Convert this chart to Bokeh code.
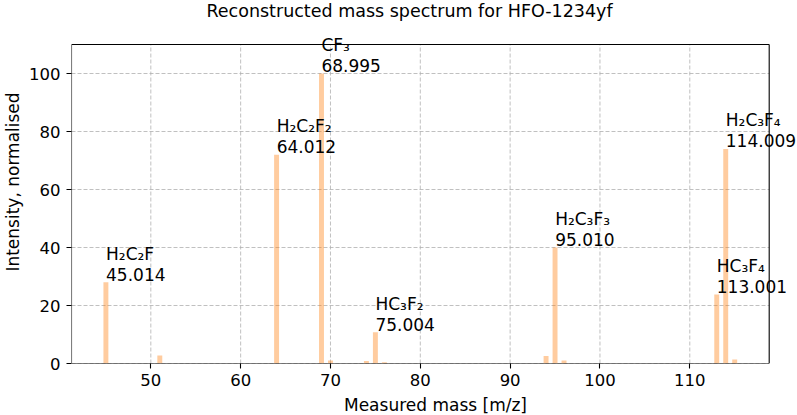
from bokeh.plotting import figure
from bokeh.models import ColumnDataSource, Label, FixedTicker
from bokeh.embed import file_html
from bokeh.resources import INLINE

# ---- data ----
masses = [45, 51, 64, 69, 70, 74, 75, 76, 94, 95, 96, 113, 114, 115]
intensities = [28, 2.8, 72, 100, 1.0, 0.9, 10.8, 0.4, 2.6, 40, 1.0, 23.8, 74, 1.4]

label_formulas = ["H₂C₂F", "H₂C₂F₂", "CF₃", "HC₃F₂", "H₂C₃F₃", "HC₃F₄", "H₂C₃F₄"]
label_masses = [45.014, 64.012, 68.995, 75.004, 95.010, 113.001, 114.009]
label_texts = ["45.014", "64.012", "68.995", "75.004", "95.010", "113.001", "114.009"]
label_heights = [28, 72, 100, 10.8, 40, 23.8, 74]

x_ticks = [50, 60, 70, 80, 90, 100, 110]
y_ticks = [0, 20, 40, 60, 80, 100]

title_text = "Reconstructed mass spectrum for HFO-1234yf"
xlabel = "Measured mass [m/z]"
ylabel = "Intensity, normalised"

# ---- layout constants (pixels) ----
XMIN, XMAX = 41.17, 118.84     # visible axes limits
YMIN, YMAX = 0.0, 110.0
FIG_W, FIG_H = 797, 415
LEFT, BOTTOM = 69, 52           # outer panels
AX_W, AX_H = 697.7, 319         # size of the boxed axes
FRAME_W = FIG_W - LEFT
FRAME_H = FIG_H - BOTTOM
px_x = AX_W / (XMAX - XMIN)
px_y = AX_H / (YMAX - YMIN)
x_end = XMIN + FRAME_W / px_x   # frame extends right of the box so labels aren't clipped
y_end = YMIN + FRAME_H / px_y   # and above it, for the title and top labels

FONT = "DejaVu Sans"

p = figure(
    frame_width=FRAME_W, frame_height=FRAME_H,
    min_border_left=LEFT, min_border_right=0, min_border_top=0, min_border_bottom=BOTTOM,
    x_range=(XMIN, x_end), y_range=(YMIN, y_end),
    output_backend="svg", toolbar_location=None,
)
p.outline_line_color = None
p.xgrid.visible = False
p.ygrid.visible = False

# ---- grid (dashed) ----
gx = ColumnDataSource(dict(x0=x_ticks, x1=x_ticks, y0=[YMIN] * len(x_ticks), y1=[YMAX] * len(x_ticks)))
gy = ColumnDataSource(dict(x0=[XMIN] * len(y_ticks), x1=[XMAX] * len(y_ticks), y0=y_ticks, y1=y_ticks))
for src in (gx, gy):
    p.segment(x0="x0", y0="y0", x1="x1", y1="y1", source=src,
              line_color="#b0b0b0", line_width=0.8, line_dash="4 2")

# ---- bars ----
bar_src = ColumnDataSource(dict(x=masses, top=intensities))
p.vbar(x="x", top="top", bottom=0, width=0.55, source=bar_src,
       fill_color="#ff7f0e", fill_alpha=0.4, line_color=None)

# ---- box spines ----
spines = ColumnDataSource(dict(x0=[XMIN, XMAX, XMIN, XMIN], y0=[YMIN, YMIN, YMIN, YMAX],
                               x1=[XMIN, XMAX, XMAX, XMAX], y1=[YMAX, YMAX, YMIN, YMAX]))
p.segment(x0="x0", y0="y0", x1="x1", y1="y1", source=spines,
          line_color="black", line_width=1.1)

# ---- peak labels ----
LFS = "17px"
for xm, ym, form, num in zip(label_masses, label_heights, label_formulas, label_texts):
    for txt, off in ((num, 8), (form, 28.5)):
        p.add_layout(Label(x=xm, y=ym, text=txt, x_offset=0, y_offset=off,
                           text_align="left", text_baseline="alphabetic",
                           text_font=FONT, text_font_size=LFS, text_color="black"))

# ---- title (inside the extended frame) ----
title_cx = XMIN + (407 - LEFT) / px_x
title_y = YMIN + (FRAME_H - 10) / px_y
p.add_layout(Label(x=title_cx, y=title_y, text=title_text, text_align="center",
                   text_baseline="alphabetic", text_font=FONT, text_font_size="17.5px",
                   text_color="black"))

# ---- axes ----
p.xaxis.ticker = FixedTicker(ticks=x_ticks)
p.yaxis.ticker = FixedTicker(ticks=y_ticks)
p.xaxis.axis_label = xlabel
p.yaxis.axis_label = ylabel
for ax in (p.xaxis, p.yaxis):
    ax.axis_label_text_font = FONT
    ax.axis_label_text_font_size = "17px"
    ax.axis_label_text_font_style = "normal"
    ax.axis_label_text_color = "black"
    ax.major_label_text_font = FONT
    ax.major_label_text_font_size = "16.5px"
    ax.major_label_text_color = "black"
    ax.axis_line_color = None
    ax.major_tick_line_color = "black"
    ax.major_tick_line_width = 1.1
    ax.major_tick_out = 5
    ax.major_tick_in = 0
    ax.minor_tick_line_color = None
p.xaxis.major_label_standoff = 5
p.xaxis.axis_label_standoff = 6
p.yaxis.major_label_standoff = 6
p.yaxis.axis_label_standoff = 3

p.background_fill_color = "white"
p.border_fill_color = "white"

open("out.html", "w").write(file_html(p, INLINE))
